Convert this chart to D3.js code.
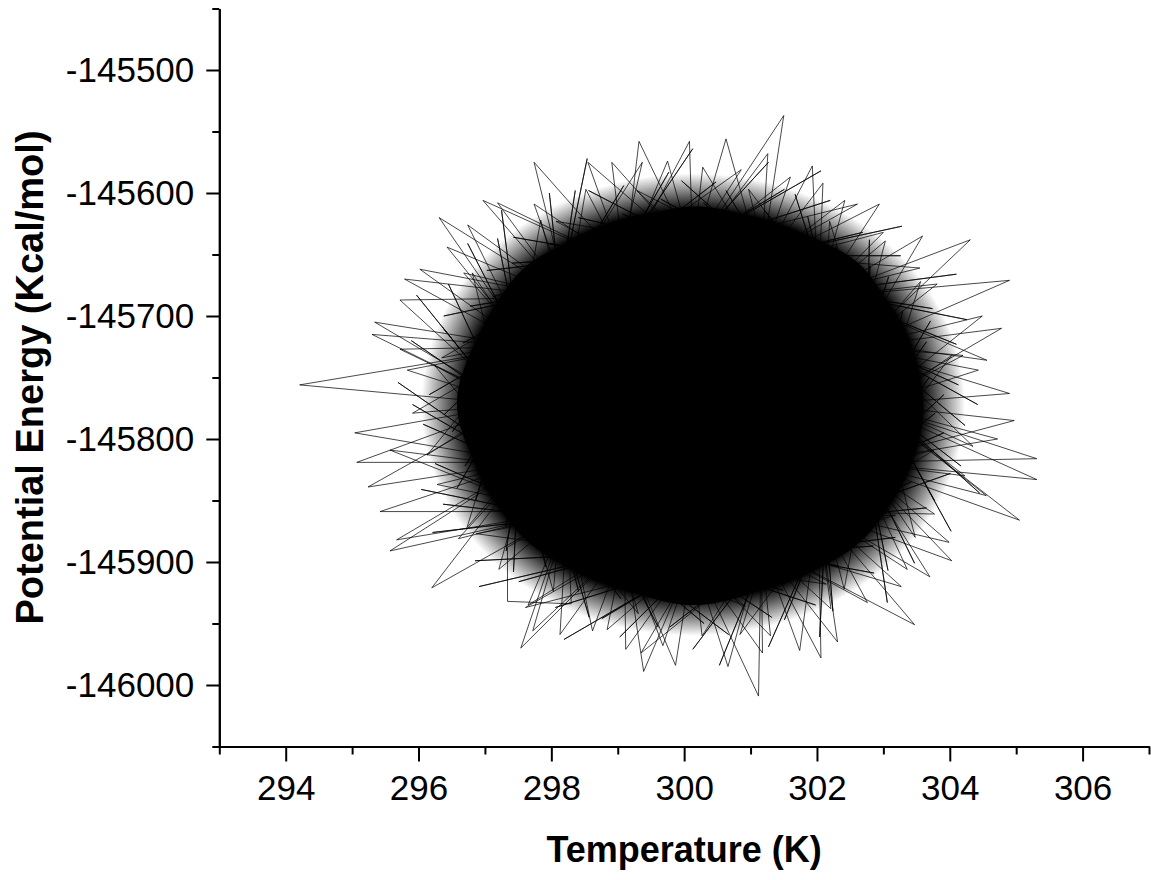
<!DOCTYPE html>
<html>
<head>
<meta charset="utf-8">
<script src="https://cdn.jsdelivr.net/npm/d3@7"></script>
<style>
body { margin: 0; background: #fff; }
text { font-family: "Liberation Sans", Arial, sans-serif; fill: #000; }
</style>
</head>
<body>
<div id="chart"></div>
<script>
const width = 1151, height = 880;

// axis ticks
const tempTicks = [294, 296, 298, 300, 302, 304, 306];
const tempMinor = [293, 295, 297, 299, 301, 303, 305, 307];
const energyTicks = [-146000, -145900, -145800, -145700, -145600, -145500];
const energyMinor = [-146050, -145950, -145850, -145750, -145650, -145550, -145450];

// solid centre of the trajectory, [temperature, energy]
const corePoints = [
	[303.28, -145772], [302.95, -145718], [302.40, -145667], [301.31, -145641],
	[300.13, -145627], [298.97, -145643], [297.88, -145669], [297.28, -145718],
	[296.92, -145772], [297.31, -145826], [297.90, -145875], [298.94, -145905],
	[300.13, -145919], [301.30, -145902], [302.40, -145877], [302.98, -145826]
];

// dense band just outside the centre
const haloPoints = [
	[303.60, -145772], [303.25, -145713], [302.62, -145657], [301.44, -145627],
	[300.13, -145611], [298.85, -145630], [297.66, -145658], [296.95, -145712],
	[296.58, -145772], [296.98, -145832], [297.68, -145885], [298.83, -145916],
	[300.13, -145935], [301.44, -145917], [302.60, -145886], [303.31, -145832]
];

// outer limit of the thinning tangle
const fuzzPoints = [
	[304.23, -145772], [303.91, -145700], [303.03, -145639], [301.70, -145598],
	[300.13, -145584], [298.56, -145598], [297.23, -145639], [296.35, -145700],
	[296.04, -145772], [296.35, -145844], [297.23, -145905], [298.56, -145946],
	[300.13, -145960], [301.70, -145946], [303.03, -145905], [303.91, -145844]
];

// short excursions, first pass round the edge
const hairPoints = [
	[302.75, -145722], [304.42, -145772], [302.75, -145722], [304.13, -145756],
	[302.75, -145722], [304.56, -145736], [302.13, -145680], [304.10, -145723],
	[302.13, -145680], [304.26, -145703], [302.13, -145680], [303.74, -145694],
	[302.13, -145680], [304.10, -145666], [302.13, -145680], [303.55, -145661],
	[301.22, -145651], [303.26, -145651], [301.22, -145651], [303.28, -145627],
	[301.22, -145651], [302.69, -145632], [301.22, -145651], [302.61, -145609],
	[300.13, -145642], [302.20, -145606], [300.13, -145642], [302.06, -145582],
	[300.13, -145642], [301.51, -145597], [300.13, -145642], [301.27, -145575],
	[300.13, -145642], [300.86, -145581], [299.04, -145651], [300.48, -145591],
	[299.04, -145651], [300.13, -145564], [299.04, -145651], [299.77, -145583],
	[299.04, -145651], [299.37, -145575], [298.13, -145680], [299.09, -145594],
	[298.13, -145680], [298.54, -145572], [298.13, -145680], [298.36, -145598],
	[298.13, -145680], [297.97, -145600], [298.13, -145680], [297.84, -145622],
	[297.51, -145722], [297.25, -145614], [297.51, -145722], [297.19, -145637],
	[297.51, -145722], [296.74, -145641], [297.51, -145722], [296.81, -145665],
	[297.30, -145772], [296.45, -145674], [297.30, -145772], [295.97, -145683],
	[297.30, -145772], [296.36, -145709], [297.30, -145772], [295.89, -145720],
	[297.30, -145772], [296.24, -145740], [297.51, -145822], [295.69, -145754],
	[297.51, -145822], [295.91, -145772], [297.51, -145822], [296.07, -145788],
	[297.51, -145822], [295.57, -145809], [298.13, -145864], [296.25, -145820],
	[298.13, -145864], [296.04, -145841], [298.13, -145864], [296.37, -145853],
	[298.13, -145864], [296.21, -145876], [298.13, -145864], [296.87, -145877],
	[299.04, -145893], [296.85, -145899], [299.04, -145893], [296.91, -145920],
	[299.04, -145893], [297.51, -145916], [299.04, -145893], [297.61, -145937],
	[300.13, -145902], [298.06, -145937], [300.13, -145902], [298.19, -145963],
	[300.13, -145902], [298.76, -145946], [300.13, -145902], [299.03, -145961],
	[300.13, -145902], [299.35, -145974], [301.22, -145893], [299.78, -145953],
	[301.22, -145893], [300.13, -145971], [301.22, -145893], [300.53, -145984],
	[301.22, -145893], [300.84, -145959], [302.13, -145864], [301.27, -145969],
	[302.13, -145864], [301.51, -145947], [302.13, -145864], [302.04, -145961],
	[302.13, -145864], [302.24, -145940], [302.13, -145864], [302.41, -145922],
	[302.75, -145822], [303.06, -145933], [302.75, -145822], [303.07, -145907],
	[302.75, -145822], [303.47, -145901], [302.75, -145822], [303.48, -145880],
	[302.97, -145772], [304.02, -145875], [302.97, -145772], [303.77, -145850],
	[302.97, -145772], [304.45, -145844], [302.97, -145772], [304.17, -145822],
	[302.97, -145772], [304.35, -145806], [302.75, -145722], [304.23, -145789],
	[302.75, -145722]
];

// short excursions, second pass round the edge
const hairPoints2 = [
	[302.75, -145822], [303.91, -145764], [302.75, -145822], [303.69, -145750],
	[302.75, -145822], [304.03, -145732], [302.97, -145772], [303.65, -145721],
	[302.97, -145772], [303.71, -145704], [302.97, -145772], [303.29, -145696],
	[302.97, -145772], [303.56, -145672], [302.75, -145722], [303.08, -145668],
	[302.75, -145722], [302.80, -145659], [302.75, -145722], [302.79, -145638],
	[302.75, -145722], [302.28, -145643], [302.75, -145722], [302.19, -145623],
	[302.13, -145680], [301.86, -145619], [302.13, -145680], [301.67, -145601],
	[302.13, -145680], [301.21, -145614], [302.13, -145680], [300.97, -145597],
	[301.22, -145651], [300.63, -145598], [301.22, -145651], [300.29, -145608],
	[301.22, -145651], [299.96, -145590], [301.22, -145651], [299.65, -145605],
	[301.22, -145651], [299.29, -145598], [300.13, -145642], [299.07, -145617],
	[300.13, -145642], [298.56, -145598], [300.13, -145642], [298.41, -145620],
	[300.13, -145642], [298.07, -145623], [299.04, -145651], [297.94, -145641],
	[299.04, -145651], [297.43, -145636], [299.04, -145651], [297.41, -145657],
	[299.04, -145651], [297.03, -145663], [299.04, -145651], [297.13, -145684],
	[298.13, -145680], [296.78, -145692], [298.13, -145680], [296.38, -145700],
	[298.13, -145680], [296.67, -145722], [298.13, -145680], [296.35, -145734],
	[297.51, -145722], [296.63, -145751], [297.51, -145722], [296.16, -145764],
	[297.51, -145722], [296.39, -145780], [297.51, -145722], [296.51, -145794],
	[297.51, -145722], [296.13, -145813], [297.30, -145772], [296.70, -145822],
	[297.30, -145772], [296.58, -145840], [297.30, -145772], [296.86, -145850],
	[297.30, -145772], [296.73, -145872], [297.51, -145822], [297.31, -145872],
	[297.51, -145822], [297.32, -145891], [297.51, -145822], [297.43, -145908],
	[297.51, -145822], [297.92, -145904], [297.51, -145822], [298.03, -145924],
	[298.13, -145864], [298.41, -145924], [298.13, -145864], [298.57, -145945],
	[298.13, -145864], [299.05, -145930], [298.13, -145864], [299.31, -145942],
	[299.04, -145893], [299.61, -145953], [299.04, -145893], [299.97, -145934],
	[299.04, -145893], [300.30, -145950], [299.04, -145893], [300.67, -145959],
	[299.04, -145893], [300.92, -145936], [300.13, -145902], [301.32, -145945],
	[300.13, -145902], [301.49, -145923], [300.13, -145902], [301.98, -145935],
	[300.13, -145902], [302.14, -145918], [301.22, -145893], [302.32, -145903],
	[301.22, -145893], [302.86, -145909], [301.22, -145893], [302.85, -145887],
	[301.22, -145893], [303.18, -145880], [301.22, -145893], [303.18, -145862],
	[302.13, -145864], [303.65, -145856], [302.13, -145864], [303.42, -145835],
	[302.13, -145864], [304.01, -145828], [302.13, -145864], [303.76, -145809],
	[302.75, -145822], [303.91, -145795], [302.75, -145822], [303.78, -145779],
	[302.75, -145822]
];

// long outer excursions of the trajectory
const tracePoints = [
	[297.45, -145772], [294.21, -145756], [297.65, -145725], [295.91, -145779],
	[297.45, -145772], [295.04, -145795], [297.65, -145819], [295.07, -145819],
	[297.45, -145772], [295.24, -145839], [297.65, -145819], [296.28, -145837],
	[298.24, -145859], [295.42, -145859], [297.65, -145819], [295.67, -145882],
	[298.24, -145859], [295.57, -145891], [297.65, -145819], [296.60, -145881],
	[298.24, -145859], [296.20, -145921], [297.65, -145819], [297.21, -145906],
	[298.24, -145859], [297.34, -145888], [297.34, -145932], [298.30, -145934],
	[298.24, -145859], [297.65, -145935], [299.10, -145886], [297.54, -145970],
	[298.24, -145859], [297.72, -145956], [299.10, -145886], [298.13, -145959],
	[298.24, -145859], [298.62, -145956], [299.10, -145886], [298.84, -145955],
	[300.13, -145895], [299.12, -145971], [299.10, -145886], [299.39, -145989],
	[300.13, -145895], [299.68, -145968], [299.10, -145886], [299.87, -145984],
	[300.13, -145895], [300.27, -145960], [301.16, -145886], [300.66, -145985],
	[300.13, -145895], [301.12, -146009], [301.16, -145886], [301.18, -145974],
	[300.13, -145895], [301.30, -145960], [301.16, -145886], [301.74, -145972],
	[302.02, -145859], [302.06, -145978], [301.16, -145886], [302.31, -145965],
	[302.02, -145859], [302.21, -145938], [301.16, -145886], [302.76, -145933],
	[302.02, -145859], [303.47, -145951], [301.16, -145886], [303.27, -145920],
	[302.02, -145859], [303.36, -145906], [302.61, -145819], [303.70, -145912],
	[302.02, -145859], [304.03, -145899], [302.61, -145819], [303.99, -145884],
	[302.02, -145859], [303.77, -145861], [302.61, -145819], [305.05, -145866],
	[302.81, -145772], [304.55, -145846], [302.61, -145819], [304.23, -145830],
	[302.81, -145772], [305.31, -145833], [302.61, -145819], [305.31, -145816],
	[302.81, -145772], [304.72, -145800], [302.61, -145819], [304.97, -145785],
	[302.81, -145772], [304.90, -145763], [302.61, -145725], [304.43, -145744],
	[302.81, -145772], [304.20, -145732], [302.61, -145725], [304.78, -145710],
	[302.81, -145772], [304.49, -145700], [302.61, -145725], [304.90, -145671],
	[302.02, -145685], [303.81, -145674], [302.61, -145725], [304.31, -145638],
	[302.02, -145685], [303.59, -145635], [302.61, -145725], [303.03, -145639],
	[302.02, -145685], [303.00, -145632], [301.16, -145658], [302.94, -145609],
	[302.02, -145685], [302.42, -145606], [301.16, -145658], [302.09, -145592],
	[302.02, -145685], [301.93, -145578], [301.16, -145658], [301.60, -145587],
	[300.13, -145649], [301.50, -145537], [301.16, -145658], [301.26, -145568],
	[300.13, -145649], [300.63, -145556], [301.16, -145658], [300.28, -145579],
	[300.13, -145649], [300.08, -145558], [299.10, -145658], [299.75, -145574],
	[300.13, -145649], [299.32, -145558], [299.10, -145658], [298.91, -145575],
	[300.13, -145649], [298.55, -145575], [299.10, -145658], [298.52, -145597],
	[298.24, -145685], [297.74, -145575], [299.10, -145658], [297.74, -145609],
	[298.24, -145685], [297.19, -145608], [299.10, -145658], [296.97, -145606],
	[298.24, -145685], [296.74, -145626], [297.65, -145725], [296.31, -145620],
	[298.24, -145685], [296.43, -145644], [297.65, -145725], [296.68, -145665],
	[298.24, -145685], [296.02, -145662], [297.65, -145725], [295.79, -145670],
	[298.24, -145685], [295.72, -145687], [297.45, -145772], [295.34, -145705],
	[297.65, -145725], [295.30, -145715], [297.45, -145772], [295.72, -145727],
	[297.65, -145725], [295.83, -145744], [297.45, -145772]
];

const svg = d3.select("#chart")
	.append("svg")
	.attr("width", width)
	.attr("height", height);

const x = d3.scaleLinear().domain([293, 307]).range([219.3, 1149]);
const y = d3.scaleLinear().domain([-146050, -145450]).range([746.5, 8.5]);

const line = d3.line()
	.x((d) => x(d[0]))
	.y((d) => y(d[1]));

// soft fall-off of the tangle density
const grad = svg.append("defs")
	.append("radialGradient")
	.attr("id", "fuzz");
[[0, 1], [0.84, 1], [0.92, 0.5], [1, 0]].forEach(function(s) {
	grad.append("stop")
		.attr("offset", s[0])
		.attr("stop-color", "#000")
		.attr("stop-opacity", s[1]);
});

svg.append("path")
	.datum(fuzzPoints)
	.attr("d", line.curve(d3.curveCardinalClosed))
	.attr("fill", "url(#fuzz)");

// solid band and centre, then the excursions on top
svg.append("path")
	.datum(haloPoints)
	.attr("d", line.curve(d3.curveCardinalClosed))
	.attr("fill", "#000");

svg.append("path")
	.datum(corePoints)
	.attr("d", line.curve(d3.curveCardinalClosed))
	.attr("fill", "#000");

[hairPoints2, hairPoints, tracePoints].forEach(function(pts) {
	svg.append("path")
		.datum(pts)
		.attr("d", line.curve(d3.curveLinear))
		.attr("fill", "none")
		.attr("stroke", "#000")
		.attr("stroke-opacity", 0.8)
		.attr("stroke-width", 0.9);
});

// ================ axes ==================
function styleAxis(g) {
	g.selectAll("path, line").attr("stroke", "#000").attr("stroke-width", 2);
	g.selectAll("text").attr("font-size", 35).attr("fill", "#000");
}

svg.append("g")
	.attr("transform", `translate(0, ${y(-146050)})`)
	.call(d3.axisBottom(x).tickValues(tempMinor).tickSize(8).tickSizeOuter(0).tickFormat(""))
	.call(styleAxis);

svg.append("g")
	.attr("transform", `translate(0, ${y(-146050)})`)
	.call(d3.axisBottom(x).tickValues(tempTicks).tickSize(15).tickSizeOuter(0).tickPadding(14)
		.tickFormat((d) => String(d)))
	.call(styleAxis);

svg.append("g")
	.attr("transform", `translate(${x(293)}, 0)`)
	.call(d3.axisLeft(y).tickValues(energyMinor).tickSize(7).tickSizeOuter(0).tickFormat(""))
	.call(styleAxis);

svg.append("g")
	.attr("transform", `translate(${x(293)}, 0)`)
	.call(d3.axisLeft(y).tickValues(energyTicks).tickSize(13).tickSizeOuter(0).tickPadding(12)
		.tickFormat((d) => String(d)))
	.call(styleAxis);

svg.append("text")
	.attr("x", (x(293) + x(307)) / 2)
	.attr("y", 862)
	.attr("text-anchor", "middle")
	.attr("font-size", 36)
	.attr("font-weight", "bold")
	.text("Temperature (K)");

svg.append("text")
	.attr("transform", `translate(43, ${(y(-146050) + y(-145450)) / 2}) rotate(-90)`)
	.attr("text-anchor", "middle")
	.attr("font-size", 38)
	.attr("font-weight", "bold")
	.text("Potential Energy (Kcal/mol)");
</script>
</body>
</html>
